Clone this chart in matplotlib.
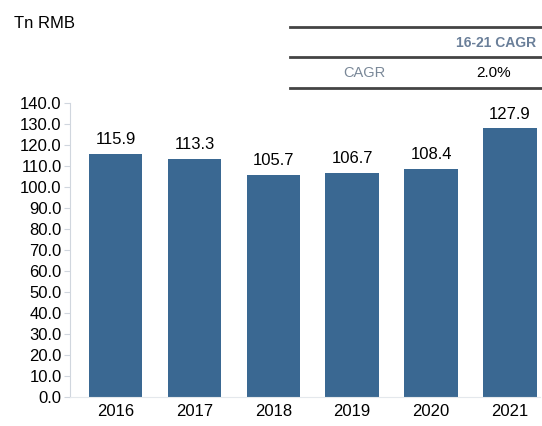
import matplotlib.pyplot as plt
import numpy as np

plt.rcParams['font.family'] = ['Liberation Sans', 'DejaVu Sans']

years = ['2016', '2017', '2018', '2019', '2020', '2021']
values = [115.9, 113.3, 105.7, 106.7, 108.4, 127.9]
cagr_period = '16-21 CAGR'
cagr_value = '2.0%'

fig = plt.figure(figsize=(5.42, 4.26), dpi=100)
ax = fig.add_axes([0.129, 0.068, 0.867, 0.690])

x = np.arange(len(years))
ax.bar(x, values, width=0.68, color='#3a6892')
for xi, v in zip(x, values):
    ax.annotate(f'{v:.1f}', (xi, v), xytext=(0, 5), textcoords='offset points',
                ha='center', va='bottom', fontsize=12)

ax.set_xlim(-0.58, 5.38)
ax.set_ylim(0, 140)
ax.set_yticks(np.arange(0, 141, 10))
ax.set_yticklabels([f'{t:.1f}' for t in np.arange(0, 141, 10)], fontsize=12)
ax.set_xticks(x)
ax.set_xticklabels(years, fontsize=12)
ax.tick_params(axis='x', length=0, pad=5)
ax.tick_params(axis='y', length=4, color='#d0d6de', pad=2)
for s in ['top', 'right']:
    ax.spines[s].set_visible(False)
ax.spines['left'].set_color('#d0d6de')
ax.spines['bottom'].set_color('#e4e8ec')

fig.text(0.026, 0.946, 'Tn RMB', fontsize=12, ha='left', va='center')

# small CAGR table
for yl in [0.936, 0.866, 0.794]:
    fig.add_artist(plt.Line2D([0.535, 1.0], [yl, yl], color='#444444', lw=2))
fig.text(0.915, 0.899, cagr_period, fontsize=10, fontweight='bold', color='#6a7f99',
         ha='center', va='center')
fig.text(0.672, 0.829, 'CAGR', fontsize=10.5, color='#7a8898', ha='center', va='center')
fig.text(0.91, 0.829, cagr_value, fontsize=11, ha='center', va='center')

fig.savefig('out.png', dpi=100)
